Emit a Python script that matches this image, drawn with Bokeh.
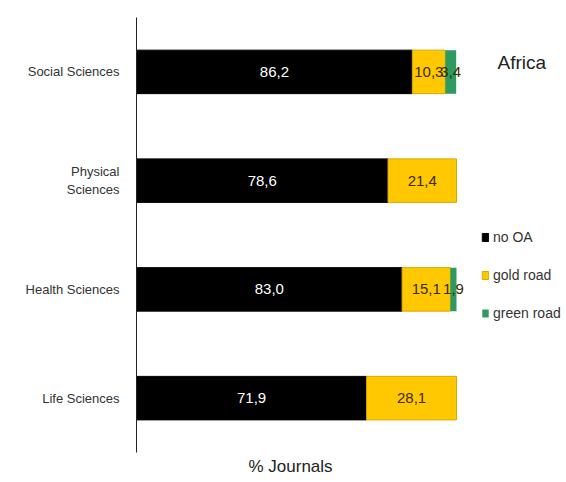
from bokeh.plotting import figure
from bokeh.models import ColumnDataSource, FactorRange, Range1d, Label, Title
from bokeh.embed import file_html
from bokeh.resources import INLINE
from bokeh.core.properties import value

categories = ["Life Sciences", "Health Sciences", "Physical\nSciences", "Social Sciences"]
no_oa = [71.9, 83.0, 78.6, 86.2]
gold_road = [28.1, 15.1, 21.4, 10.3]
green_road = [0.0, 1.9, 0.0, 3.4]
series_names = ["no OA", "gold road", "green road"]
region = "Africa"
x_title = "% Journals"

FONT = "'Liberation Sans', Arial, sans-serif"
colors = ["#000000", "#ffc800", "#2e9a62"]

src = ColumnDataSource(dict(cat=categories, noOA=no_oa, gold=gold_road, green=green_road))

p = figure(width=566, height=482, y_range=FactorRange(*categories), x_range=Range1d(0, 134.375),
           output_backend="svg", toolbar_location=None, x_axis_location=None,
           min_border_left=136, min_border_right=0, min_border_top=17, min_border_bottom=30)

p.hbar_stack(["noOA", "gold", "green"], y="cat", height=0.4, source=src,
             fill_color=colors, line_color=["#000000", "#d9a800", "#2e9a62"],
             line_alpha=[1, 1, 0], legend_label=series_names)

# value labels
lx, ly, lt, lc = [], [], [], []
for i, c in enumerate(categories):
    start = 0.0
    for vals, col in ((no_oa, "#ffffff"), (gold_road, "#3a2a00"), (green_road, "#3a2a00")):
        v = vals[i]
        if v > 0:
            lx.append(start + v / 2)
            ly.append(c)
            lt.append(f"{v:.1f}".replace(".", ","))
            lc.append(col)
        start += v
lsrc = ColumnDataSource(dict(x=lx, y=ly, t=lt, c=lc))
p.text(x="x", y="y", text="t", text_color="c", source=lsrc, text_align="center",
       text_baseline="middle", text_font=value(FONT), text_font_size="15px")

p.xgrid.visible = False
p.ygrid.visible = False
p.outline_line_color = None
p.background_fill_color = "#ffffff"
p.border_fill_color = "#ffffff"

ya = p.yaxis[0]
ya.axis_line_color = "#222222"
ya.major_tick_line_color = None
ya.minor_tick_line_color = None
ya.major_label_text_font = FONT
ya.major_label_text_font_size = "13px"
ya.major_label_text_color = "#333333"
ya.major_label_standoff = 11

p.add_layout(Title(text=x_title, align="left", offset=112, standoff=4,
                   text_font=FONT, text_font_size="17px", text_font_style="normal",
                   text_color="#222222"), "below")

lg = p.legend[0]
lg.location = (345, 129)
lg.padding = 0
lg.margin = 0
lg.border_line_alpha = 0
lg.background_fill_alpha = 0
lg.glyph_width = 8
lg.glyph_height = 10
lg.label_standoff = 4
lg.label_height = 20
lg.spacing = 18
lg.label_text_font = FONT
lg.label_text_font_size = "14px"
lg.label_text_color = "#333333"

p.add_layout(Label(x=361, y=390, x_units="screen", y_units="screen", text=region,
                   text_font=FONT, text_font_size="19px",
                   text_color="#222222", text_baseline="middle"))

open("out.html", "w").write(file_html(p, INLINE))
